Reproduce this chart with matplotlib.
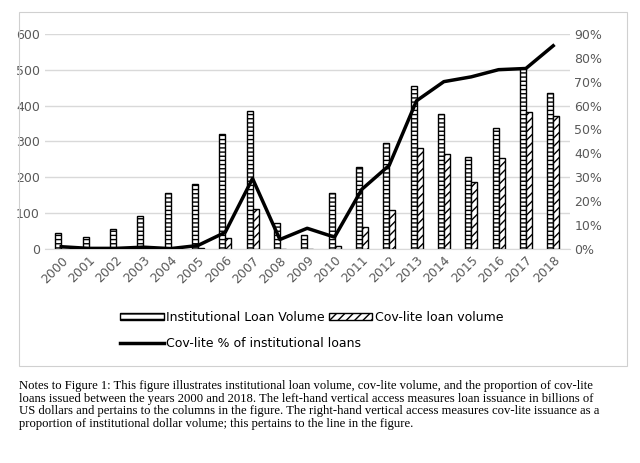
import numpy as np
import matplotlib.pyplot as plt
from matplotlib.patches import Rectangle
from matplotlib.lines import Line2D

years = [str(y) for y in range(2000, 2019)]
inst_volume = [46, 35, 57, 92, 155, 182, 320, 385, 72, 38, 156, 230, 297, 455, 376, 257, 337, 505, 435]
covlite_volume = [0, 0, 0, 0, 0, 3, 30, 112, 0, 1, 8, 62, 110, 283, 266, 186, 253, 382, 370]
covlite_pct = [1, 0.3, 0.3, 0.8, 0.2, 1.5, 7, 29.5, 4, 8.7, 5, 25, 35, 62, 70, 72, 75, 75.5, 85]

plt.rcParams['hatch.linewidth'] = 1.0
fig = plt.figure(figsize=(6.4, 4.63), dpi=100)
fig.patches.append(Rectangle((0.03, 0.21), 0.95, 0.765, transform=fig.transFigure,
                             fill=False, ec='#d0d0d0', lw=0.8))
ax = fig.add_axes([0.07, 0.462, 0.82, 0.465])
x = np.arange(len(years))
w = 0.22
ax.bar(x - w / 2, inst_volume, w, color='white', ec='black', lw=1, hatch='----',
       label='Institutional Loan Volume', zorder=2)
ax.bar(x + w / 2, covlite_volume, w, color='white', ec='black', lw=1, hatch='////',
       label='Cov-lite loan volume', zorder=2)
ax.set_ylim(0, 600)
ax.set_yticks(range(0, 601, 100))
ax.set_xlim(-0.6, len(years) - 0.4)
ax.set_xticks(x)
ax.set_xticklabels(years, rotation=45, ha='right', rotation_mode='anchor', fontsize=9)
ax.grid(axis='y', color='#d9d9d9', lw=1, zorder=0)
ax.set_axisbelow(True)
for s in ('top', 'right', 'left'):
    ax.spines[s].set_visible(False)
ax.spines['bottom'].set_color('#d9d9d9')
ax.tick_params(length=0, labelcolor='#595959', labelsize=9)

ax2 = ax.twinx()
ax2.plot(x, covlite_pct, color='black', lw=2.5, label='Cov-lite % of institutional loans')
ax2.set_ylim(0, 90)
ax2.set_yticks(range(0, 91, 10))
ax2.set_yticklabels([f'{v}%' for v in range(0, 91, 10)])
ax2.tick_params(length=0, labelcolor='#595959', labelsize=9)
for s in ax2.spines.values():
    s.set_visible(False)

h = [Rectangle((0, 0), 1, 1, fc='white', ec='black', hatch='---'),
     Rectangle((0, 0), 1, 1, fc='white', ec='black', hatch='////')]
fig.legend(h, ['Institutional Loan Volume', 'Cov-lite loan volume'], ncol=2,
           loc='center left', bbox_to_anchor=(0.17, 0.315), frameon=False,
           fontsize=9, handlelength=3.5, handleheight=0.5, columnspacing=0.3, handletextpad=0.2)
fig.legend([Line2D([], [], color='black', lw=2.5)], ['Cov-lite % of institutional loans'],
           loc='center left', bbox_to_anchor=(0.17, 0.258), frameon=False,
           fontsize=9, handlelength=3.5, handletextpad=0.2)

notes = ("Notes to Figure 1: This figure illustrates institutional loan volume, cov-lite volume, and the proportion of cov-lite\n"
         "loans issued between the years 2000 and 2018. The left-hand vertical access measures loan issuance in billions of\n"
         "US dollars and pertains to the columns in the figure. The right-hand vertical access measures cov-lite issuance as a\n"
         "proportion of institutional dollar volume; this pertains to the line in the figure.")
fig.text(0.03, 0.18, notes, family='Liberation Serif', fontsize=9.1, va='top', linespacing=1.1)
fig.savefig('out.png', dpi=100)
